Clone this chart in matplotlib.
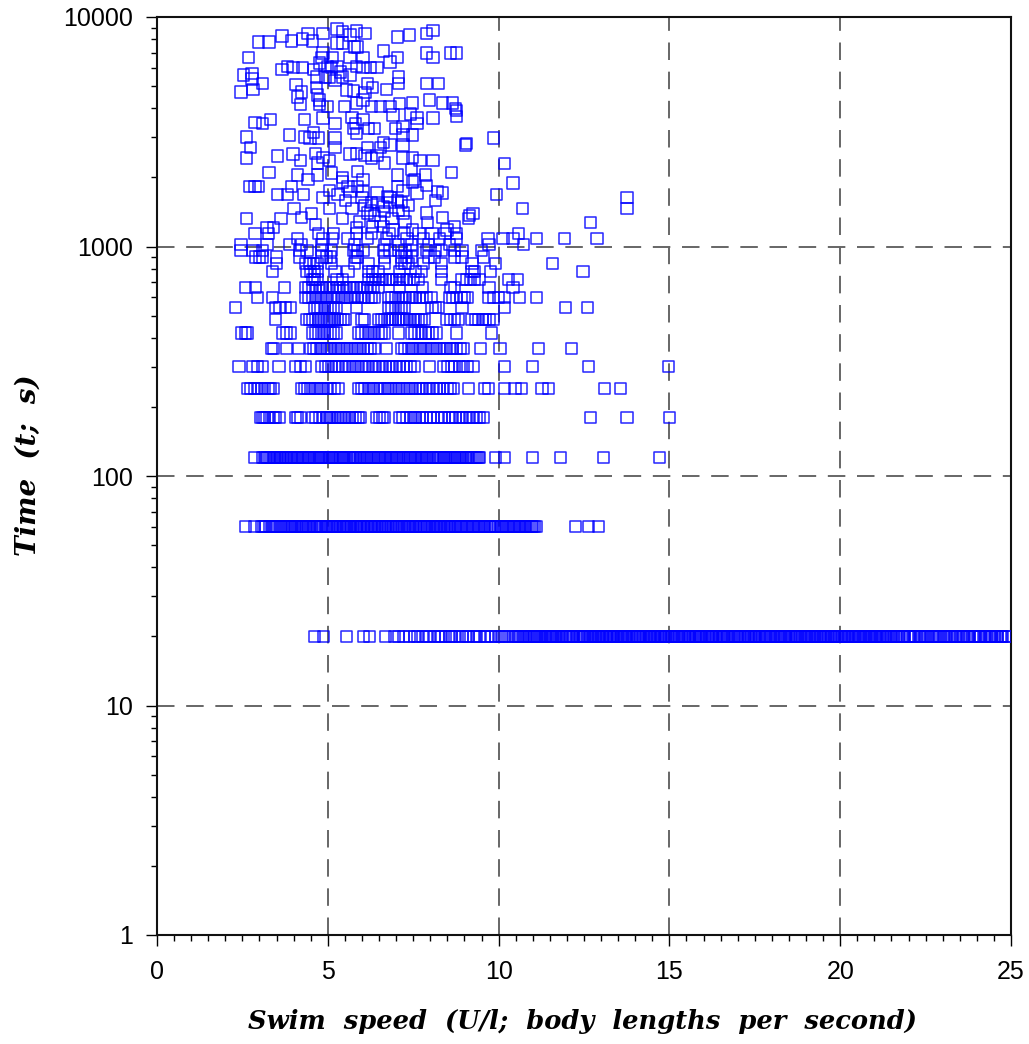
import numpy as np
import matplotlib
matplotlib.use("Agg")
import matplotlib.pyplot as plt
from matplotlib.ticker import MultipleLocator, LogLocator, NullFormatter, FixedLocator

# swim speeds (body lengths / s) for trials stopped at fixed times (s)
x_20 = [4.62, 4.88, 5.55, 6.05, 6.22, 6.68, 6.95, 7.08, 7.22, 7.40, 7.55, 7.62, 7.78, 7.90, 7.98,
        8.12, 8.25, 8.33, 8.45, 8.55, 8.62, 8.70, 8.85, 8.95, 9.05, 9.12, 9.28, 9.36, 9.45, 9.58,
        9.66, 9.80, 9.92, 10.02, 10.10, 10.18, 10.30, 10.42, 10.50, 10.58, 10.70, 10.78, 10.90,
        11.02, 11.10, 11.20, 11.32, 11.40, 11.48, 11.55, 11.62, 11.70, 11.85, 11.95, 12.05, 12.12,
        12.20, 12.35, 12.45, 12.52, 12.60, 12.70, 12.78, 12.88, 12.95, 13.05, 13.12, 13.20, 13.28,
        13.36, 13.45, 13.52, 13.60, 13.66, 13.75, 13.82, 13.95, 14.05, 14.12, 14.20, 14.30, 14.38,
        14.45, 14.52, 14.60, 14.68, 14.78, 14.85, 14.92, 15.02, 15.10, 15.22, 15.30, 15.40, 15.48,
        15.55, 15.62, 15.72, 15.80, 15.88, 15.95, 16.05, 16.15, 16.22, 16.30, 16.38, 16.48, 16.55,
        16.62, 16.70, 16.78, 16.90, 17.00, 17.08, 17.20, 17.28, 17.35, 17.45, 17.52, 17.60, 17.70,
        17.78, 17.85, 17.95, 18.05, 18.18, 18.25, 18.33, 18.40, 18.48, 18.58, 18.68, 18.75, 18.85,
        18.95, 19.02, 19.10, 19.20, 19.28, 19.38, 19.45, 19.55, 19.62, 19.72, 19.80, 19.88, 19.98,
        20.08, 20.15, 20.25, 20.32, 20.42, 20.50, 20.58, 20.68, 20.75, 20.85, 20.92, 21.02, 21.10,
        21.18, 21.28, 21.35, 21.45, 21.55, 21.62, 21.70, 21.80, 21.88, 21.98, 22.05, 22.15, 22.22,
        22.32, 22.40, 22.48, 22.58, 22.65, 22.75, 22.82, 22.92, 23.02, 23.10, 23.18, 23.28, 23.35,
        23.45, 23.52, 23.62, 23.70, 23.78, 23.88, 23.95, 24.05, 24.12, 24.22, 24.30, 24.38, 24.45,
        24.52, 24.60, 24.68, 24.75, 24.85, 24.92]
x_20b = [10.55, 10.64, 10.74, 10.84, 10.96, 11.06, 11.15, 11.26, 11.36, 11.44, 11.52, 11.58, 11.66,
         11.78, 11.90, 12.00, 12.08, 12.16, 12.28, 12.40, 12.48, 12.56, 12.65, 12.74, 12.83, 12.92,
         13.00, 13.08, 13.16, 13.24, 13.32, 13.40, 13.48, 13.56, 13.63, 13.70, 13.78, 13.88, 14.00,
         14.08, 14.16, 14.25, 14.34, 14.42, 14.48, 14.56, 14.64, 14.73, 14.82, 14.88, 14.97, 15.06,
         15.16, 15.26, 15.35, 15.44, 15.52, 15.58, 15.67, 15.76, 15.84, 15.92, 16.00, 16.10, 16.18,
         16.26, 16.34, 16.43, 16.52, 16.58, 16.66, 16.74, 16.84, 16.95, 17.04, 17.14, 17.24, 17.32,
         17.40, 17.48, 17.56, 17.65, 17.74, 17.82, 17.90, 18.00, 18.12, 18.22, 18.29, 18.36, 18.44,
         18.53, 18.63, 18.72, 18.80, 18.90, 18.98, 19.06, 19.15, 19.24, 19.33, 19.42, 19.50, 19.58,
         19.67, 19.76, 19.84, 19.93, 20.03, 20.12, 20.20, 20.28, 20.37, 20.46, 20.54, 20.63, 20.72,
         20.80, 20.88, 20.97, 21.06, 21.14, 21.23, 21.32, 21.40, 21.50, 21.66, 21.84, 22.02, 22.18,
         22.36, 22.53, 22.70, 22.87, 23.06, 23.23, 23.40, 23.57, 23.74, 23.92, 24.08, 24.26, 24.42,
         24.56, 24.72]
x_60 = [2.58, 2.85, 3.05, 3.18, 3.30, 3.40, 3.52, 3.60, 3.70, 3.82, 3.92, 4.02, 4.10, 4.22, 4.30,
        4.40, 4.50, 4.62, 4.70, 4.80, 4.92, 5.00, 5.10, 5.18, 5.28, 5.38, 5.45, 5.55, 5.62, 5.70,
        5.80, 5.88, 5.92, 5.96, 6.00, 6.04, 6.08, 6.12, 6.16, 6.20, 6.24, 6.28, 6.32, 6.40, 6.52,
        6.60, 6.70, 6.78, 6.88, 6.98, 7.05, 7.15, 7.25, 7.35, 7.42, 7.52, 7.60, 7.70, 7.80, 7.88,
        7.98, 8.10, 8.18, 8.22, 8.26, 8.30, 8.34, 8.38, 8.42, 8.46, 8.55, 8.65, 8.75, 8.85, 8.95,
        9.05, 9.15, 9.25, 9.35, 9.45, 9.55, 9.65, 9.72, 9.82, 9.92, 10.05, 10.15, 10.25, 10.35,
        10.45, 10.55, 10.65, 10.75, 10.85, 10.95, 11.05, 11.12, 12.26, 12.62, 12.92]
x_60b = [3.12, 3.35, 3.46, 3.65, 3.76, 3.87, 3.97, 4.06, 4.16, 4.26, 4.35, 4.45, 4.56, 4.66, 4.75,
         4.86, 4.96, 5.05, 5.14, 5.23, 5.33, 5.42, 5.50, 5.58, 5.66, 5.75, 5.84, 6.36, 6.46, 6.56,
         6.65, 6.74, 6.83, 6.93, 7.02, 7.10, 7.20, 7.30, 7.38, 7.47, 7.56, 7.65, 7.75, 7.84, 7.93,
         8.04, 8.14, 8.50, 8.60, 8.70, 8.80, 8.90, 9.00, 9.10, 9.20, 9.30, 9.40, 9.50, 9.60, 9.77,
         9.87, 10.00, 10.10, 10.20, 10.30, 10.40, 10.50, 10.60, 10.70, 10.80, 10.90, 11.00]
x_120 = [2.86, 3.08, 3.20, 3.30, 3.40, 3.50, 3.58, 3.66, 3.75, 3.85, 3.95, 4.05, 4.15, 4.25, 4.30,
         4.35, 4.40, 4.45, 4.50, 4.55, 4.62, 4.72, 4.80, 4.90, 5.02, 5.10, 5.20, 5.32, 5.42, 5.50,
         5.62, 5.72, 5.80, 5.92, 6.02, 6.12, 6.22, 6.35, 6.45, 6.55, 6.65, 6.75, 6.85, 6.95, 7.05,
         7.15, 7.28, 7.38, 7.48, 7.58, 7.68, 7.78, 7.88, 7.98, 8.05, 8.10, 8.15, 8.20, 8.28, 8.38,
         8.48, 8.58, 8.70, 8.80, 8.92, 9.02, 9.12, 9.22, 9.35, 9.45, 9.90, 10.18, 10.98, 11.80,
         13.08, 14.72]
x_120b = [3.14, 3.25, 3.35, 3.45, 3.54, 3.62, 3.70, 3.80, 3.90, 4.00, 4.10, 4.20, 4.67, 4.76, 4.85,
          4.96, 5.06, 5.15, 5.26, 5.37, 5.46, 5.56, 5.67, 5.76, 5.86, 5.97, 6.07, 6.17, 6.28, 6.40,
          6.50, 6.60, 6.70, 6.80, 6.90, 7.00, 7.10, 7.22, 7.33, 7.43, 7.53, 7.63, 7.73, 7.83, 7.93,
          8.33, 8.43, 8.53, 8.64, 8.75, 8.86, 8.97, 9.07, 9.17, 9.28, 9.40]
x_180 = [3.02, 3.08, 3.15, 3.22, 3.30, 3.40, 3.48, 3.58, 4.05, 4.12, 4.19, 4.56, 4.65, 4.75, 4.85,
         4.95, 5.00, 5.05, 5.12, 5.22, 5.30, 5.38, 5.45, 5.52, 5.62, 5.72, 5.82, 5.90, 5.97, 6.43,
         6.52, 6.60, 6.67, 7.10, 7.20, 7.30, 7.42, 7.50, 7.58, 7.68, 7.78, 7.90, 8.00, 8.10, 8.22,
         8.32, 8.42, 8.55, 8.65, 8.75, 8.85, 8.95, 9.05, 9.15, 9.25, 9.35, 9.45, 9.57, 12.68, 13.76,
         15.00]
x_240 = [2.66, 2.75, 2.85, 2.95, 3.05, 3.15, 3.25, 3.32, 3.40, 4.24, 4.32, 4.42, 4.50, 4.60, 4.70,
         4.80, 4.88, 4.98, 5.08, 5.18, 5.30, 5.91, 6.00, 6.08, 6.18, 6.28, 6.35, 6.45, 6.55, 6.65,
         6.75, 6.82, 6.92, 7.02, 7.10, 7.20, 7.30, 7.40, 7.48, 7.58, 7.68, 7.78, 7.88, 7.98, 8.08,
         8.18, 8.28, 8.40, 8.50, 8.58, 8.67, 9.13, 9.60, 9.70, 10.16, 10.48, 10.68, 11.27, 11.45,
         13.09, 13.58]
x_300 = [2.40, 2.81, 2.95, 3.10, 3.57, 4.05, 4.20, 4.36, 4.83, 4.92, 5.02, 5.12, 5.22, 5.32, 5.42,
         5.52, 5.62, 5.72, 5.80, 5.90, 6.00, 6.10, 6.20, 6.30, 6.40, 6.50, 6.60, 6.70, 6.80, 6.90,
         7.00, 7.10, 7.20, 7.30, 7.42, 7.54, 7.99, 8.40, 8.52, 8.62, 8.72, 8.85, 8.98, 9.10, 9.25,
         10.16, 10.98, 12.63, 14.97]
x_360 = [3.35, 3.42, 3.80, 4.13, 4.49, 4.58, 4.68, 4.78, 4.86, 4.95, 5.05, 5.12, 5.22, 5.32, 5.40,
         5.50, 5.58, 5.68, 5.78, 5.86, 5.95, 6.05, 6.15, 6.25, 6.37, 6.73, 7.17, 7.25, 7.35, 7.45,
         7.52, 7.62, 7.72, 7.80, 7.90, 8.00, 8.08, 8.18, 8.28, 8.38, 8.48, 8.58, 8.66, 8.78, 8.88,
         8.96, 9.46, 10.04, 11.18, 12.13]
x_420 = [2.47, 2.58, 2.66, 3.69, 3.80, 3.92, 4.54, 4.63, 4.72, 4.82, 4.90, 5.00, 5.08, 5.16, 5.24,
         5.91, 6.00, 6.10, 6.18, 6.28, 6.38, 6.48, 6.58, 6.66, 7.08, 7.46, 7.55, 7.65, 7.75, 7.85,
         7.95, 8.05, 8.17, 8.78, 9.78]
x_480 = [3.48, 4.39, 4.47, 4.56, 4.64, 4.73, 4.82, 4.90, 4.98, 5.05, 5.12, 5.20, 5.28, 5.36, 5.45,
         5.53, 6.00, 6.07, 6.50, 6.58, 6.66, 6.74, 6.82, 6.90, 6.98, 7.06, 7.14, 7.22, 7.30, 7.40,
         7.50, 7.58, 7.66, 7.75, 7.83, 8.49, 8.60, 8.70, 8.81, 9.22, 9.32, 9.42, 9.52, 9.62, 9.72,
         9.84]
x_540 = [2.31, 3.47, 3.60, 3.75, 3.92, 4.60, 4.70, 4.80, 4.90, 5.00, 5.08, 5.16, 5.24, 5.85, 6.79,
         6.88, 6.98, 7.08, 7.16, 7.25, 8.05, 8.15, 8.23, 8.93, 10.16, 11.95, 12.60]
x_600 = [2.93, 3.37, 4.35, 4.45, 4.55, 4.65, 4.72, 4.82, 4.92, 5.00, 5.10, 5.20, 5.30, 5.40, 5.50,
         5.58, 5.68, 5.78, 5.88, 5.98, 6.08, 6.18, 6.28, 6.37, 6.79, 6.88, 6.98, 7.08, 7.18, 7.28,
         7.38, 7.48, 7.58, 7.68, 7.78, 7.90, 8.02, 8.55, 8.66, 8.78, 8.90, 9.00, 9.10, 9.72, 9.85,
         10.00, 10.16, 10.62, 11.12]
x_660 = [2.58, 2.88, 3.72, 4.35, 4.45, 4.55, 4.65, 4.75, 4.85, 4.95, 5.05, 5.15, 5.25, 5.35, 5.45,
         5.55, 5.65, 5.75, 5.85, 5.95, 6.05, 6.15, 6.25, 6.35, 6.47, 7.11, 7.76, 8.60, 8.70, 9.72,
         10.42]
x_720 = [4.54, 4.62, 4.71, 5.27, 5.42, 6.20, 6.30, 6.40, 6.50, 6.60, 6.70, 6.80, 6.90, 7.00, 7.10,
         7.20, 7.30, 7.40, 7.52, 7.64, 8.34, 8.93, 9.05, 9.18, 9.29, 9.45, 10.30, 10.55]
x_780 = [3.37, 4.39, 4.50, 4.60, 4.71, 5.21, 5.59, 6.20, 6.32, 6.47, 7.11, 7.57, 7.73, 8.34, 9.22,
         9.30, 9.75, 12.47]
x_840 = [3.51, 4.35, 4.47, 4.59, 4.71, 5.12, 5.77, 6.20, 6.67, 7.17, 7.26, 7.35, 7.79, 8.34, 9.22,
         9.92, 11.59]
x_900 = [2.88, 3.00, 3.10, 3.51, 4.16, 4.83, 4.96, 5.09, 5.81, 5.88, 6.67, 7.17, 7.30, 7.44, 7.96,
         8.12, 8.72, 8.93, 9.57]
x_960 = [2.46, 2.81, 3.10, 4.16, 4.39, 4.83, 5.12, 5.74, 5.88, 6.03, 6.62, 6.82, 7.06, 7.26, 7.49,
         7.90, 8.14, 8.34, 8.72, 8.93, 9.51]
x_1020 = [2.46, 3.22, 3.89, 4.24, 4.83, 5.77, 6.67, 7.08, 7.46, 7.96, 8.55, 9.72, 10.74]
x_1080 = [4.10, 4.86, 5.15, 5.59, 6.15, 6.73, 7.32, 7.79, 8.28, 8.78, 9.69, 10.13, 10.42, 11.12,
          11.94, 12.88]
x_1140 = [2.87, 3.27, 4.73, 5.17, 5.85, 6.29, 6.79, 7.23, 7.67, 8.05, 8.43, 8.78, 10.57]

row_times = [20, 20, 60, 60, 120, 120, 180, 240, 300, 360, 420, 480, 540, 600, 660, 720, 780, 840,
             900, 960, 1020, 1080, 1140]
row_speeds = [x_20, x_20b, x_60, x_60b, x_120, x_120b, x_180, x_240, x_300, x_360, x_420, x_480,
              x_540, x_600, x_660, x_720, x_780, x_840, x_900, x_960, x_1020, x_1080, x_1140]

# longer trials, times spread out
cloud_x = [5.27, 5.42, 5.83, 6.09, 5.65, 4.86, 4.42, 3.66, 3.95, 2.96, 3.28, 4.27, 4.54, 7.03, 7.38,
           7.90, 8.08, 5.27, 5.44, 5.77, 5.88, 2.69, 4.86, 4.83, 5.15, 5.65, 6.03, 6.62, 7.03, 6.82,
           7.90, 8.08, 8.58, 8.78, 2.52, 2.78, 2.78, 3.10, 2.46, 2.81, 3.66, 3.83, 3.98, 4.27, 4.57,
           4.68, 4.77, 4.98, 5.12, 5.27, 5.36, 4.92, 5.06, 5.21, 5.44, 5.65, 5.85, 6.03, 6.24, 6.44,
           7.06, 7.06, 7.90, 8.23, 4.07, 4.24, 4.68, 4.71, 4.10, 4.19, 4.77, 4.77, 4.98, 5.56, 5.74,
           6.15, 6.32, 6.73, 6.09, 5.50, 5.85, 6.03, 6.29, 6.53, 6.82, 7.11, 7.49, 7.99, 8.37, 8.64,
           8.78, 8.78, 6.91, 7.41, 7.61, 8.08, 2.87, 3.10, 3.31, 4.33, 4.86, 5.21, 5.71, 5.80, 6.03,
           6.18, 5.74, 6.38, 6.97, 7.20, 7.61, 2.63, 2.75, 2.63, 3.89, 4.33, 4.57, 4.48, 4.74, 5.21,
           5.21, 5.85, 6.15, 6.53, 6.62, 6.82, 7.20, 7.20, 7.49, 9.02, 9.84, 3.54, 3.98, 4.19, 4.63,
           4.86, 5.06, 4.71, 5.65, 5.85, 6.09, 6.29, 6.44, 6.65, 7.20, 7.49, 7.70, 8.08, 3.28, 4.10,
           4.42, 4.71, 5.12, 5.44, 5.88, 6.03, 7.03, 7.46, 7.55, 7.85, 8.61, 10.16, 2.72, 2.87, 2.96,
           3.54, 3.95, 3.81, 4.30, 4.86, 5.06, 5.42, 5.59, 5.65, 5.88, 6.03, 6.44, 6.82, 7.03, 7.20,
           7.49, 7.61, 7.90, 8.20, 8.37, 8.14, 9.95, 10.42, 2.61, 3.63, 4.01, 4.24, 4.51, 4.65, 5.06,
           5.42, 5.71, 5.83, 6.15, 6.29, 6.47, 6.62, 6.82, 7.03, 7.17, 6.32, 6.62, 6.91, 7.20, 7.49,
           7.90, 7.93, 8.37, 8.49, 8.72, 9.16, 3.22, 3.40, 8.75, 9.05, 13.76, 13.76, 10.71, 9.25,
           9.13, 12.68, 6.09, 6.24, 6.38, 6.53, 6.67, 6.88, 7.06, 7.26, 5.94, 7.35, 6.76, 6.00, 5.30,
           5.53]
cloud_t = [8870, 8610, 8690, 8510, 8350, 8510, 8510, 8260, 7860, 7780, 7780, 8020, 7860, 8180, 8350,
           8510, 8770, 7700, 7700, 7400, 7400, 6690, 6970, 6690, 6690, 6690, 6690, 7110, 6690, 6370,
           6970, 6690, 6970, 6970, 5590, 5650, 5370, 5150, 4710, 4850, 5880, 6060, 6000, 6000, 5880,
           5480, 6300, 6060, 6000, 6060, 5760, 5480, 5480, 5310, 5480, 5590, 6060, 6000, 6000, 6000,
           5480, 5150, 5150, 5110, 5060, 4710, 4950, 4570, 4480, 4140, 4350, 4140, 4090, 4810, 4760,
           5150, 4910, 4850, 4670, 4060, 4220, 4350, 4090, 4090, 4060, 4180, 4220, 4350, 4220, 4220,
           3930, 3700, 3740, 3780, 3630, 3630, 3480, 3450, 3560, 3560, 3630, 3420, 3660, 3450, 3560,
           3280, 3280, 3280, 3280, 3320, 3450, 3000, 2710, 2430, 3060, 3000, 3150, 2970, 2970, 2970,
           2710, 3120, 2710, 2690, 2830, 2770, 3060, 2770, 3060, 2770, 2970, 2480, 2530, 2360, 2550,
           2450, 2380, 2310, 2530, 2550, 2500, 2430, 2500, 2310, 2430, 2450, 2380, 2360, 2110, 2050,
           1950, 2050, 2090, 1990, 2130, 1950, 2050, 2160, 1950, 2050, 2110, 2290, 1820, 1820, 1820,
           1690, 1820, 1690, 1690, 1630, 1760, 1910, 1820, 1730, 1830, 1730, 1710, 1630, 1820, 1760,
           1910, 1710, 1850, 1730, 1710, 1590, 1680, 1890, 1330, 1330, 1470, 1340, 1390, 1250, 1470,
           1330, 1460, 1210, 1400, 1550, 1550, 1490, 1550, 1590, 1550, 1220, 1220, 1180, 1400, 1180,
           1400, 1270, 1340, 1180, 1220, 1370, 1210, 1210, 4010, 2800, 1630, 1460, 1460, 1390,
           1330, 1270, 1510, 1440, 1370, 1290, 1420, 1330, 1440, 1290, 1290, 1510, 1650, 1640, 1680,
           1590]

speed = np.concatenate([np.array(r, dtype=float) for r in row_speeds] + [np.array(cloud_x)])
time_s = np.concatenate([np.full(len(r), t, dtype=float) for r, t in zip(row_speeds, row_times)]
                        + [np.array(cloud_t, dtype=float)])

fig = plt.figure(figsize=(10.29, 10.44), dpi=100)
ax = fig.add_axes([157 / 1029, 1 - 935 / 1044, (1011 - 157) / 1029, (935 - 17) / 1044])

ax.set_yscale("log")
ax.set_xlim(0, 25)
ax.set_ylim(1, 10000)

ax.scatter(speed, time_s, marker="s", s=64, facecolors="none", edgecolors="#0000ff",
           linewidths=1.1, alpha=0.85, zorder=3)

# dashed grid
for xv in [5, 10, 15, 20]:
    ax.axvline(xv, color="#666666", lw=1.4, ls=(0, (9, 6)), zorder=1)
for yv in [10, 100, 1000]:
    ax.axhline(yv, color="#666666", lw=1.4, ls=(0, (9, 6)), zorder=1)

ax.xaxis.set_major_locator(MultipleLocator(5))
ax.xaxis.set_minor_locator(MultipleLocator(0.5))
ax.yaxis.set_major_locator(FixedLocator([1, 10, 100, 1000, 10000]))
ax.yaxis.set_minor_locator(LogLocator(base=10, subs=np.arange(2, 10)))
ax.yaxis.set_minor_formatter(NullFormatter())
ax.set_yticklabels(["1", "10", "100", "1000", "10000"])

ax.tick_params(which="major", direction="out", length=8, width=1.0, labelsize=18, pad=9,
               labelfontfamily="Liberation Sans")
ax.tick_params(which="minor", direction="out", length=4.5, width=1.0)
ax.tick_params(axis="x", which="major", pad=10)

for sp in ax.spines.values():
    sp.set_linewidth(1.5)
    sp.set_color("#111111")

lab_font = dict(family="DejaVu Serif", weight="bold", style="italic")
fig.text(0.566, 1 - 1022 / 1044, "Swim  speed  (U/l;  body  lengths  per  second)",
         ha="center", va="center", size=18.5, **lab_font)
fig.text(0.027, 1 - 465 / 1044, "Time  (t;  s)", ha="center", va="center", rotation=90,
         size=20, **lab_font)

fig.savefig("out.png", dpi=100)
